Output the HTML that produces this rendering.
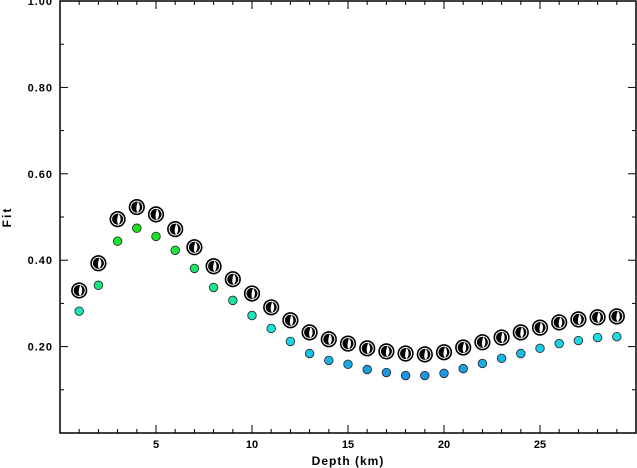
<!DOCTYPE html>
<html><head><meta charset="utf-8"><style>
body{margin:0;background:#fff;}
svg{display:block;font-family:"Liberation Sans",sans-serif;}
</style></head><body>
<svg id="chart" width="637" height="468">
<g id="axes"></g><g id="marks"></g>
</svg>
<script>
const depths=[1,2,3,4,5,6,7,8,9,10,11,12,13,14,15,16,17,18,19,20,21,22,23,24,25,26,27,28,29];
const fitValues=[0.330,0.393,0.495,0.523,0.506,0.472,0.430,0.386,0.356,0.323,0.291,0.261,0.233,0.217,0.207,0.196,0.189,0.184,0.182,0.187,0.198,0.210,0.221,0.233,0.244,0.256,0.263,0.268,0.270];
const dotValues=[0.282,0.342,0.444,0.474,0.455,0.423,0.381,0.337,0.307,0.272,0.242,0.212,0.184,0.168,0.159,0.147,0.140,0.133,0.133,0.138,0.149,0.161,0.173,0.184,0.196,0.207,0.214,0.221,0.223];
const xTicks=[5,10,15,20,25];
const yTicks=[0.2,0.4,0.6,0.8,1.0];
const yTickLabels=["0.20","0.40","0.60","0.80","1.00"];

const L=60,R=636,T=1,B=433;
const xs=v=>L+(v-0)/30*(R-L);
const ys=v=>B-(v-0)/1*(B-T);
const NS="http://www.w3.org/2000/svg";
function mk(tag,attrs,parent){const e=document.createElementNS(NS,tag);for(const k in attrs)e.setAttribute(k,attrs[k]);parent.appendChild(e);return e;}
const ax=document.getElementById('axes'),mg=document.getElementById('marks');
let f=mk('rect',{x:L,y:T,width:R-L,height:B-T,fill:'none',stroke:'#000','stroke-width':1.5},ax);


for(let i=1;i<30;i++){
 const len=xTicks.includes(i)?8:4,x=xs(i);
 mk('line',{x1:x,x2:x,y1:B,y2:B-len,stroke:'#000','stroke-width':1},ax);
 mk('line',{x1:x,x2:x,y1:T,y2:T+len,stroke:'#000','stroke-width':1},ax);
}
for(let i=1;i<10;i++){
 const v=i/10,len=(i%2==0)?8:4,y=ys(v);
 mk('line',{x1:L,x2:L+len,y1:y,y2:y,stroke:'#000','stroke-width':1},ax);
 mk('line',{x1:R,x2:R-len,y1:y,y2:y,stroke:'#000','stroke-width':1},ax);
}
xTicks.forEach(v=>{const t=mk('text',{x:xs(v),y:448,'text-anchor':'middle','font-size':11,'font-weight':'bold'},ax);t.textContent=v;

});
yTicks.forEach((v,i)=>{const t=mk('text',{x:53,y:ys(v)+4,'text-anchor':'end','font-size':11,'font-weight':'bold','letter-spacing':1},ax);t.textContent=yTickLabels[i];

});
let xt=mk('text',{x:348,y:465,'text-anchor':'middle','font-size':12,'font-weight':'bold','letter-spacing':1},ax);xt.textContent='Depth (km)';


let yt=mk('text',{x:0,y:0,'text-anchor':'middle','font-size':12,'font-weight':'bold','letter-spacing':2,transform:'translate(11,217) rotate(-90)'},ax);yt.textContent='Fit';


function dotColor(v){const t=Math.max(0,Math.min(1,(0.47-v)/0.34));return 'hsl('+(120+t*85)+',78%,50%)';}
depths.forEach((d,i)=>{
 const c=mk('circle',{cx:xs(d),cy:ys(dotValues[i]),r:4.3,fill:dotColor(dotValues[i]),stroke:'#222','stroke-width':0.8},mg);
 
 
 const cx=xs(d),cy=ys(fitValues[i]);
 const g=mk('g',{},mg);
 
 
 mk('circle',{cx:cx,cy:cy,r:7.5,fill:'#000',stroke:'#000','stroke-width':1.2},g);
 mk('circle',{cx:cx,cy:cy,r:6,fill:'none',stroke:'#fff','stroke-width':1},g);
 mk('path',{d:`M${cx+1} ${cy-5.5} Q${cx+5} ${cy} ${cx+1} ${cy+5.5} Q${cx-2} ${cy+3} ${cx+1} ${cy-5.5}Z`,fill:'#fff'},g);
});
</script>
</body></html>
